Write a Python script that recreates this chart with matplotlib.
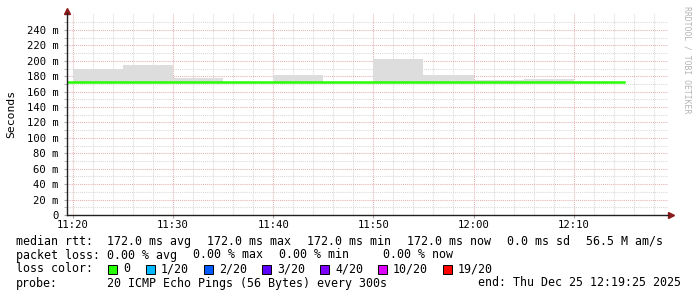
import datetime as dt
import numpy as np
import matplotlib
matplotlib.use("Agg")
import matplotlib.pyplot as plt
import matplotlib.dates as mdates
from matplotlib.patches import Rectangle

# data (values in ms)
day = dt.datetime(2025, 12, 25)
step_starts = [day.replace(hour=11, minute=15) + dt.timedelta(minutes=5 * i) for i in range(13)]
# smoke band per 5 min step (nan = no smoke visible)
smoke_top = [np.nan, 189, 194, 178, np.nan, 181, np.nan, 202, 181, 175, 176, np.nan, np.nan]
smoke_bottom = [np.nan, 171, 171, 171, np.nan, 171, np.nan, 171, 171, 171, 171, np.nan, np.nan]
median_rtt = [172, 172, 172, 172, 172, 172, 172, 172, 172, 172, 172, 172, np.nan]

y_ticks = [0, 20, 40, 60, 80, 100, 120, 140, 160, 180, 200, 220, 240]
y_labels = ["0"] + ["%d m" % v for v in y_ticks[1:]]

loss_labels = ["0", "1/20", "2/20", "3/20", "4/20", "10/20", "19/20"]
loss_colors = ["#26ff00", "#00b8ff", "#0059ff", "#5e00ff", "#7e00ff", "#dd00ff", "#ff0000"]

rtt_stats = ["172.0 ms avg", "172.0 ms max", "172.0 ms min", "172.0 ms now", "0.0 ms sd", "56.5 M am/s"]
loss_stats = ["0.00 % avg", "0.00 % max", "0.00 % min", "0.00 % now"]

W, H = 697, 297
MONO = "DejaVu Sans Mono"


def fx(x):
    return x / W


def fy(y):
    return 1 - y / H


fig = plt.figure(figsize=(W / 100, H / 100), dpi=100)
fig.patch.set_facecolor("white")

# plot area: x 67..668 px, y 13..215 px
ax = fig.add_axes([fx(67), fy(215), (668 - 67) / W, (215 - 13) / H])
t0 = day.replace(hour=11, minute=19, second=25)
t1 = day.replace(hour=12, minute=19, second=25)
ax.set_xlim(t0, t1)
ax.set_ylim(0, 262)

# grid
grid_minor = "#d9d9d9"
grid_major = "#e6b0b0"
ax.xaxis.set_major_locator(mdates.MinuteLocator(byminute=range(0, 60, 10)))
ax.xaxis.set_minor_locator(mdates.MinuteLocator(byminute=range(0, 60, 2)))
ax.xaxis.set_major_formatter(mdates.DateFormatter("%H:%M"))
ax.set_yticks(y_ticks)
ax.set_yticklabels(y_labels)
ax.set_yticks(np.arange(10, 260, 10), minor=True)
ax.grid(which="minor", color=grid_minor, linestyle=(0, (1, 1)), linewidth=0.75)
ax.grid(which="major", color=grid_major, linestyle=(0, (1, 1)), linewidth=0.75)
ax.set_axisbelow(True)

# smoke as 5 minute bars, then the median line
top = np.array(smoke_top, dtype=float)
bot = np.array(smoke_bottom, dtype=float)
ok = ~np.isnan(top)
starts = [t for t, k in zip(step_starts, ok) if k]
ax.bar(starts, (top - bot)[ok], bottom=bot[ok], width=dt.timedelta(minutes=5), align="edge",
       color="#dddddd", linewidth=0)
ax.step(step_starts, median_rtt, where="post", color="#26ff00", linewidth=1.8)

for s in ["top", "right"]:
    ax.spines[s].set_visible(False)
for s in ["left", "bottom"]:
    ax.spines[s].set_color("#202020")
    ax.spines[s].set_linewidth(1.0)

ax.tick_params(axis="both", which="both", colors="#aaaaaa", labelcolor="black",
               labelsize=7.6, direction="out")
ax.tick_params(axis="y", which="major", length=2, pad=4)
ax.tick_params(axis="y", which="minor", length=2)
ax.tick_params(axis="x", which="major", length=2, pad=1.5)
ax.tick_params(axis="x", which="minor", length=0)
for lab in ax.get_xticklabels() + ax.get_yticklabels():
    lab.set_family(MONO)

# axis arrows
ax.plot([0], [1.012], marker="^", markersize=5, color="#8b1a1a", transform=ax.transAxes, clip_on=False)
ax.plot([1.005], [0], marker=">", markersize=5, color="#8b1a1a", transform=ax.transAxes, clip_on=False)

# unit label and watermark
fig.text(fx(11), fy(114), "Seconds", rotation=90, ha="center", va="center", family=MONO, fontsize=8.2)
fig.text(fx(687), fy(60), "RRDTOOL / TOBI OETIKER", rotation=270, ha="center", va="center",
         family=MONO, fontsize=5.9, color="#b4b4b4")

# legend text
fs = 8.4
rows = [241.5, 255, 269, 283]
fig.text(fx(16), fy(rows[0]), "median rtt:", family=MONO, fontsize=fs, va="center")
for x, s in zip([107, 207, 307, 407, 507, 586], rtt_stats):
    fig.text(fx(x), fy(rows[0]), s, family=MONO, fontsize=fs, va="center")

fig.text(fx(16), fy(rows[1]), "packet loss:", family=MONO, fontsize=fs, va="center")
for x, s in zip([107, 193, 279, 383], loss_stats):
    fig.text(fx(x), fy(rows[1]), s, family=MONO, fontsize=fs, va="center")

fig.text(fx(16), fy(rows[2]), "loss color:", family=MONO, fontsize=fs, va="center")
box_x = [108, 146, 204, 262, 320, 378, 443]
for bx, lab, col in zip(box_x, loss_labels, loss_colors):
    fig.patches.append(Rectangle((fx(bx), fy(rows[2] + 4.5)), 9 / W, 9 / H, transform=fig.transFigure,
                                 facecolor=col, edgecolor="black", linewidth=0.7))
    fig.text(fx(bx + 15), fy(rows[2]), lab, family=MONO, fontsize=fs, va="center")

fig.text(fx(16), fy(rows[3]), "probe:", family=MONO, fontsize=fs, va="center")
fig.text(fx(107), fy(rows[3]), "20 ICMP Echo Pings (56 Bytes) every 300s", family=MONO, fontsize=fs, va="center")
fig.text(fx(478), fy(rows[3]), "end: Thu Dec 25 12:19:25 2025", family=MONO, fontsize=fs, va="center")

fig.savefig("out.png", dpi=100, facecolor="white")
